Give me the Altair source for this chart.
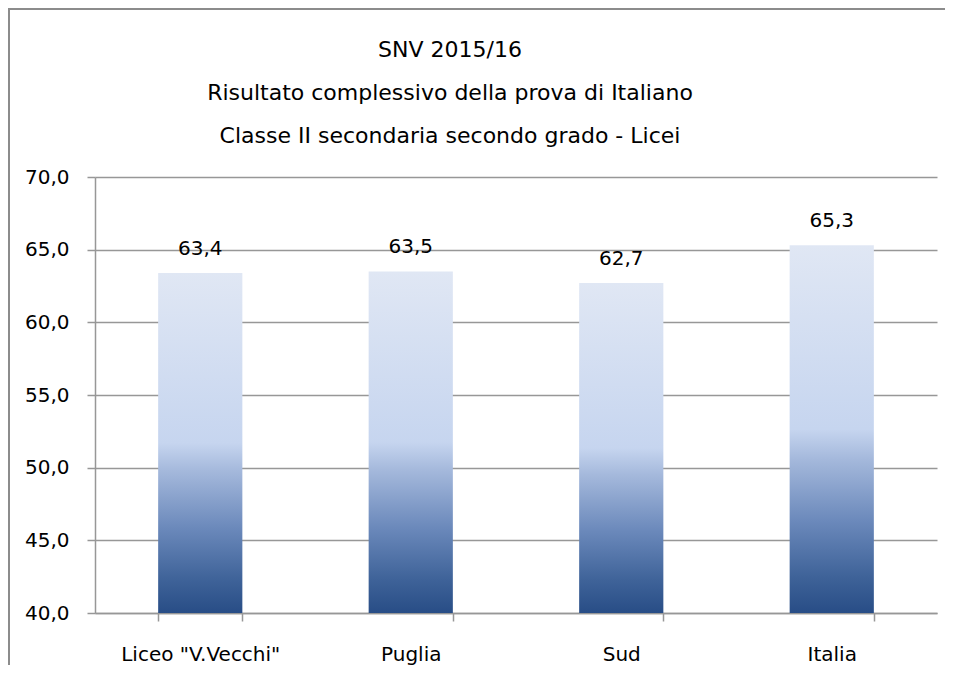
import altair as alt
import pandas as pd

categories = ['Liceo "V.Vecchi"', "Puglia", "Sud", "Italia"]
values = [63.4, 63.5, 62.7, 65.3]
y_ticks = [40, 45, 50, 55, 60, 65, 70]
y_domain = [40, 70]
title_lines = [
    "SNV 2015/16",
    "Risultato complessivo della prova di Italiano",
    "Classe II secondaria secondo grado - Licei",
]

df = pd.DataFrame({"cat": categories, "val": values, "base": [y_domain[0]] * len(values)})

W, H = 842, 436
FONT = "DejaVu Sans"
GRAY = "#979797"
FS = 20

grad = alt.Gradient(
    gradient="linear", x1=0, x2=0, y1=0, y2=1,
    stops=[
        alt.GradientStop(offset=0.0, color="#e0e7f4"),
        alt.GradientStop(offset=0.5, color="#c6d5ef"),
        alt.GradientStop(offset=0.58, color="#a5b9dc"),
        alt.GradientStop(offset=0.75, color="#6b89bb"),
        alt.GradientStop(offset=0.9, color="#3f6399"),
        alt.GradientStop(offset=1.0, color="#284d86"),
    ],
)

x_enc = alt.X(
    "cat:N", sort=categories, title=None,
    scale=alt.Scale(paddingInner=0.6, paddingOuter=0.3),
    axis=alt.Axis(
        labelAngle=0, tickBand="extent", tickSize=8, tickColor=GRAY, tickWidth=1.5,
        domainColor=GRAY, domainWidth=1.5, labelPadding=23,
        labelFont=FONT, labelFontSize=FS, labelColor="black", grid=False,
    ),
)

y_enc = alt.Y(
    "val:Q", title=None,
    scale=alt.Scale(domain=y_domain, nice=False, zero=False),
    axis=alt.Axis(
        values=y_ticks, labelExpr="replace(format(datum.value, '.1f'), '.', ',')",
        tickSize=8, tickColor=GRAY, tickWidth=1.5, domainColor=GRAY, domainWidth=1.5,
        gridColor=GRAY, gridWidth=1.5, labelPadding=18,
        labelFont=FONT, labelFontSize=FS, labelColor="black",
    ),
)

base = alt.Chart(df)

bars = base.mark_bar(fill=grad).encode(x=x_enc, y=y_enc, y2="base:Q")

labels = base.transform_calculate(
    lab="replace(format(datum.val, '.1f'), '.', ',')"
).mark_text(baseline="bottom", dy=-14, font=FONT, fontSize=FS, color="black").encode(
    x=alt.X("cat:N", sort=categories), y="val:Q", text="lab:N"
)

border = alt.Chart(pd.DataFrame({"a": [0]})).mark_rect(
    filled=False, stroke="#8c8c8c", strokeWidth=2
).encode(
    x=alt.value(-86), x2=alt.value(W + 60), y=alt.value(-168), y2=alt.value(H + 120)
)

chart = alt.layer(bars, labels, border).properties(
    width=W, height=H,
    autosize=alt.AutoSizeParams(type="none"),
    padding={"left": 87, "top": 169, "right": 8, "bottom": 52},
    title=alt.TitleParams(
        text=title_lines, font=FONT, fontSize=22, fontWeight="normal", color="black",
        lineHeight=43, anchor="middle", frame="group",
        dx=-66, offset=-140,
    ),
).configure_view(strokeWidth=0)

chart.save("out.html", embed_options={"renderer": "svg", "actions": False})
